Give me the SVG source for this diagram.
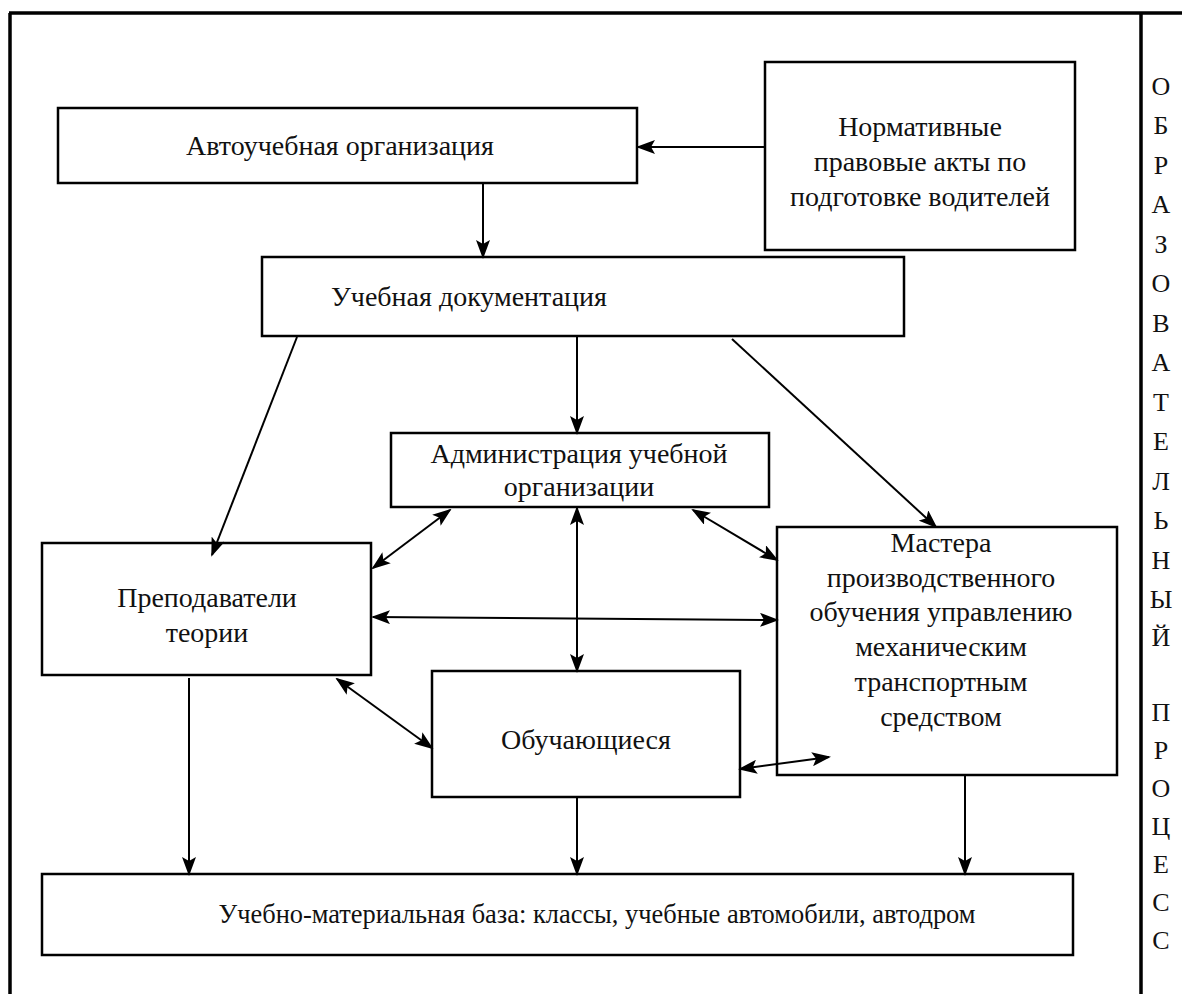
<svg xmlns="http://www.w3.org/2000/svg" width="1182" height="994" viewBox="0 0 1182 994">
<style>
.box{fill:#fff;stroke:#000;stroke-width:2.5}
.t{font-family:"Liberation Serif","Times New Roman",serif;font-size:28px;fill:#111;text-anchor:middle}
.v{font-family:"Liberation Serif","Times New Roman",serif;font-size:26px;fill:#111;text-anchor:middle}
.c{stroke:#000;stroke-width:2;fill:none}
.frame{stroke:#000;stroke-width:3.5;fill:none}
</style>
<defs>
<marker id="ah" markerUnits="userSpaceOnUse" markerWidth="19" markerHeight="14" refX="17" refY="7" orient="auto-start-reverse" viewBox="0 0 19 14">
<path d="M0,0 L19,7 L0,14 L4,7 Z" fill="#000"/>
</marker>
</defs>
<rect width="1182" height="994" fill="#fff"/>
<g id="frame">
<path class="frame" d="M9,13 H1182 M10,13 V994 M1141,13 V994"/>
</g>
<g id="side-label">
<text class="v" x="1161" y="95">О</text>
<text class="v" x="1161" y="134">Б</text>
<text class="v" x="1161" y="174">Р</text>
<text class="v" x="1161" y="213">А</text>
<text class="v" x="1161" y="253">З</text>
<text class="v" x="1161" y="292">О</text>
<text class="v" x="1161" y="332">В</text>
<text class="v" x="1161" y="371">А</text>
<text class="v" x="1161" y="411">Т</text>
<text class="v" x="1161" y="450">Е</text>
<text class="v" x="1161" y="490">Л</text>
<text class="v" x="1161" y="529">Ь</text>
<text class="v" x="1161" y="569">Н</text>
<text class="v" x="1161" y="608">Ы</text>
<text class="v" x="1161" y="646">Й</text>
<text class="v" x="1161" y="721">П</text>
<text class="v" x="1161" y="759">Р</text>
<text class="v" x="1161" y="797">О</text>
<text class="v" x="1161" y="835">Ц</text>
<text class="v" x="1161" y="873">Е</text>
<text class="v" x="1161" y="911">С</text>
<text class="v" x="1161" y="949">С</text>
</g>
<g id="node-autoschool">
<rect class="box" x="58" y="108" width="579" height="75"/>
<text class="t" x="340" y="155">Автоучебная организация</text>
</g>
<g id="node-normative">
<rect class="box" x="765" y="62" width="310" height="188"/>
<text class="t" x="920" y="136">Нормативные</text>
<text class="t" x="920" y="171">правовые акты по</text>
<text class="t" x="920" y="206">подготовке водителей</text>
</g>
<g id="node-docs">
<rect class="box" x="262" y="257" width="642" height="79"/>
<text class="t" x="469" y="306">Учебная документация</text>
</g>
<g id="node-admin">
<rect class="box" x="391" y="433" width="378" height="74"/>
<text class="t" x="579" y="463">Администрация учебной</text>
<text class="t" x="579" y="496">организации</text>
</g>
<g id="node-teachers">
<rect class="box" x="42" y="543" width="329" height="132"/>
<text class="t" x="207" y="607">Преподаватели</text>
<text class="t" x="207" y="642">теории</text>
</g>
<g id="node-masters">
<rect class="box" x="777" y="527" width="340" height="248"/>
<text class="t" x="941" y="552" font-size="28.5">Мастера</text>
<text class="t" x="941" y="587" font-size="28.5">производственного</text>
<text class="t" x="941" y="621" font-size="28.5">обучения управлению</text>
<text class="t" x="941" y="656" font-size="28.5">механическим</text>
<text class="t" x="941" y="691" font-size="28.5">транспортным</text>
<text class="t" x="941" y="726" font-size="28.5">средством</text>
</g>
<g id="node-students">
<rect class="box" x="432" y="671" width="308" height="126"/>
<text class="t" x="586" y="749">Обучающиеся</text>
</g>
<g id="node-base">
<rect class="box" x="42" y="874" width="1031" height="81"/>
<text class="t" x="597" y="923" font-size="26" textLength="757" lengthAdjust="spacingAndGlyphs">Учебно-материальная база: классы, учебные автомобили, автодром</text>
</g>
<g id="connectors">
<line class="c" x1="765" y1="147" x2="638" y2="147" marker-end="url(#ah)"/>
<line class="c" x1="483" y1="184" x2="483" y2="257" marker-end="url(#ah)"/>
<line class="c" x1="297" y1="337" x2="212" y2="555" marker-end="url(#ah)"/>
<line class="c" x1="577" y1="337" x2="577" y2="433" marker-end="url(#ah)"/>
<line class="c" x1="732" y1="339" x2="936" y2="527" marker-end="url(#ah)"/>
<line class="c" x1="450" y1="510" x2="373" y2="568" marker-start="url(#ah)" marker-end="url(#ah)"/>
<line class="c" x1="693" y1="510" x2="777" y2="560" marker-start="url(#ah)" marker-end="url(#ah)"/>
<line class="c" x1="373" y1="617" x2="777" y2="620" marker-start="url(#ah)" marker-end="url(#ah)"/>
<line class="c" x1="577" y1="508" x2="577" y2="671" marker-start="url(#ah)" marker-end="url(#ah)"/>
<line class="c" x1="337" y1="679" x2="432" y2="748" marker-start="url(#ah)" marker-end="url(#ah)"/>
<line class="c" x1="740" y1="769" x2="829" y2="757" marker-start="url(#ah)" marker-end="url(#ah)"/>
<line class="c" x1="189" y1="678" x2="189" y2="874" marker-end="url(#ah)"/>
<line class="c" x1="577" y1="798" x2="577" y2="874" marker-end="url(#ah)"/>
<line class="c" x1="965" y1="776" x2="965" y2="874" marker-end="url(#ah)"/>
</g>
</svg>
